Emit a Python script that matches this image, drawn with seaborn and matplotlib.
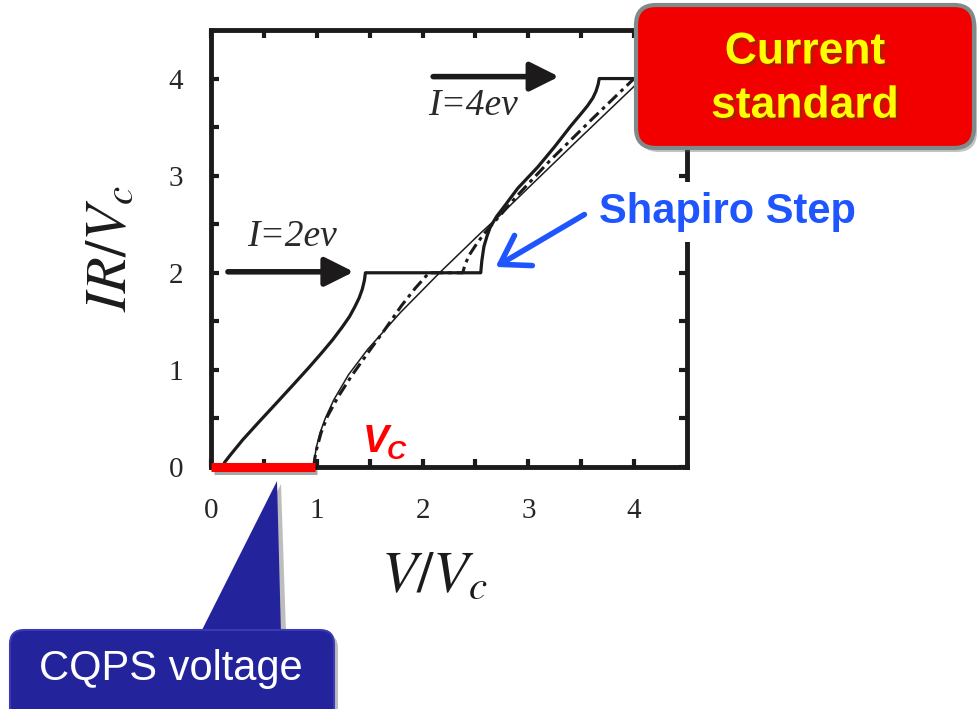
import numpy as np
import pandas as pd
import matplotlib
matplotlib.use("Agg")
import matplotlib.pyplot as plt
import seaborn as sns
from matplotlib.patches import FancyBboxPatch, Polygon
from matplotlib.transforms import IdentityTransform
import matplotlib.patheffects as pe

# ---------------- data ----------------
# main I-V curve with Shapiro steps (solid, thick)
step_v = [0.11, 0.13, 0.18, 0.30, 0.45, 0.62, 0.78, 0.93, 1.05, 1.15, 1.24, 1.31, 1.36, 1.40,
          1.43, 1.45, 1.46, 2.55, 2.56, 2.58, 2.61, 2.64, 2.70, 2.77, 2.90, 3.09, 3.25, 3.40,
          3.50, 3.56, 3.61, 3.64, 3.66, 3.67, 4.50]
step_i = [0.00, 0.05, 0.12, 0.28, 0.46, 0.66, 0.85, 1.03, 1.18, 1.31, 1.44, 1.55, 1.65, 1.74,
          1.83, 1.92, 2.00, 2.00, 2.12, 2.27, 2.38, 2.47, 2.58, 2.68, 2.87, 3.09, 3.30, 3.51,
          3.64, 3.72, 3.80, 3.87, 3.94, 4.00, 4.00]
# thin line (no microwave)
thin_v = [0.97, 0.98, 1.00, 1.03, 1.08, 1.16, 1.30, 1.48, 1.79, 2.17, 2.55, 2.74, 3.10, 3.50, 4.00, 4.10]
thin_i = [0.00, 0.10, 0.22, 0.35, 0.50, 0.69, 0.95, 1.21, 1.59, 2.01, 2.41, 2.60, 2.98, 3.40, 3.92, 4.02]
# dashed curve
dash_v = [0.97, 0.99, 1.04, 1.10, 1.20, 1.33, 1.48, 1.64, 1.80, 1.93, 2.02, 2.06, 2.38, 2.40,
          2.44, 2.50, 2.58, 2.70, 2.90, 3.20, 3.60, 4.00]
dash_i = [0.00, 0.15, 0.35, 0.52, 0.72, 0.94, 1.17, 1.41, 1.66, 1.84, 1.95, 2.00, 2.00, 2.08,
          2.18, 2.28, 2.40, 2.55, 2.80, 3.15, 3.58, 4.00]

x_ticks = [0, 1, 2, 3, 4]
y_ticks = [0, 1, 2, 3, 4]
step_levels = [2.01, 4.02]
arrow_start = [0.16, 2.10]
arrow_end = [1.35, 3.29]
step_labels = ["I=2ev", "I=4ev"]
step_label_pos = [(0.77, 2.37), (2.48, 3.72)]
cqps_range = [0.0, 0.98]

# ---------------- figure ----------------
sns.set_style("ticks")
plt.rcParams["mathtext.fontset"] = "stix"
plt.rcParams["font.family"] = ["Liberation Serif", "DejaVu Sans"]

W, H = 977, 709
fig = plt.figure(figsize=(W / 100, H / 100), dpi=100)
ax = fig.add_axes([211 / W, 1 - 467 / H, (687 - 211) / W, (467 - 30) / H])

df_step = pd.DataFrame({"V": step_v, "I": step_i})
df_thin = pd.DataFrame({"V": thin_v, "I": thin_i})
df_dash = pd.DataFrame({"V": dash_v, "I": dash_i})

ink = "#1c1a1a"
sns.lineplot(data=df_thin, x="V", y="I", sort=False, estimator=None, ax=ax,
             color=ink, lw=1.1)
sns.lineplot(data=df_dash, x="V", y="I", sort=False, estimator=None, ax=ax,
             color=ink, lw=2.2, linestyle=(0, (4, 1.6, 1.2, 1.6)))
sns.lineplot(data=df_step, x="V", y="I", sort=False, estimator=None, ax=ax,
             color=ink, lw=2.3)

ax.set_xlim(0, 4.5)
ax.set_ylim(0, 4.5)
ax.set_xticks(x_ticks)
ax.set_yticks(y_ticks)
ax.set_xticks(np.arange(0.5, 4.5, 1.0), minor=True)
ax.set_yticks(np.arange(0.5, 4.5, 1.0), minor=True)
ax.tick_params(which="both", direction="in", length=6, width=3, top=True, right=True,
               color=ink)
ax.tick_params(axis="x", which="major", labelsize=21, pad=22)
ax.tick_params(axis="y", which="major", labelsize=21, pad=20)
for s in ax.spines.values():
    s.set_linewidth(3.5)
    s.set_color(ink)

ax.set_xlabel(r"$V/V_c$", fontsize=42, color=ink)
ax.xaxis.set_label_coords(0.47, -0.195)
ax.set_ylabel(r"$IR/V_c$", fontsize=42, labelpad=22, color=ink)

# step arrows and labels
for lvl, x0, x1, lab, pos in zip(step_levels, arrow_start, arrow_end, step_labels, step_label_pos):
    ax.annotate("", xy=(x1, lvl), xytext=(x0, lvl),
                arrowprops=dict(arrowstyle="-|>,head_length=0.8,head_width=0.4",
                                lw=4, color=ink, mutation_scale=22, shrinkA=0, shrinkB=0))
    ax.text(pos[0], pos[1], lab, fontsize=27, style="italic", family="Liberation Serif",
            color="#2a2a2a", ha="center", va="center")

# red CQPS bar on the axis
ax.plot(cqps_range, [0, 0], color="#ff0000", lw=6.5, solid_capstyle="butt",
        clip_on=False, zorder=20,
        path_effects=[pe.SimpleLineShadow(offset=(2, -2), alpha=0.35), pe.Normal()])

# V_C label
ax.text(1.43, 0.26, "V", color="#ff0000", fontsize=28, fontweight="bold", style="italic",
        family="Liberation Sans", ha="left", va="center")
ax.text(1.66, 0.15, "C", color="#ff0000", fontsize=19, fontweight="bold", style="italic",
        family="Liberation Sans", ha="left", va="center")

# Shapiro Step label + arrow
ax.annotate("", xy=(2.69, 2.06), xytext=(3.53, 2.60),
            arrowprops=dict(arrowstyle="->,head_length=0.7,head_width=0.45", lw=4,
                            color="#1f55ff", mutation_scale=28, shrinkA=0, shrinkB=0))
fig.text(727 / W, 1 - 212 / H, "Shapiro Step", color="#1f55ff", fontsize=30,
         fontweight="bold", family="Liberation Sans", ha="center", va="center",
         bbox=dict(boxstyle="square,pad=0.25", fc="white", ec="none"), zorder=10)

ident = IdentityTransform()

# Current standard box (pixel coords, origin bottom-left)
shadow = FancyBboxPatch((639, H - 152), 338, 143, boxstyle="round,pad=0,rounding_size=20",
                        fc="#555555", ec="none", alpha=0.35, transform=ident, zorder=9)
fig.add_artist(shadow)
box = FancyBboxPatch((636, H - 148), 338, 143, boxstyle="round,pad=0,rounding_size=20",
                     fc="#f20000", ec="#7f8a8a", lw=3, transform=ident, zorder=10)
fig.add_artist(box)
fig.text(805 / W, 1 - 52 / H, "Current", color="#ffff00", fontsize=32, fontweight="bold",
         family="Liberation Sans", ha="center", va="center", zorder=11,
         path_effects=[pe.withSimplePatchShadow(offset=(2, -2), alpha=0.4)])
fig.text(805 / W, 1 - 106 / H, "standard", color="#ffff00", fontsize=32, fontweight="bold",
         family="Liberation Sans", ha="center", va="center", zorder=11,
         path_effects=[pe.withSimplePatchShadow(offset=(2, -2), alpha=0.4)])

# CQPS voltage callout
navy = "#23239c"
ptr_shadow = Polygon([(205, H - 632), (281, H - 484), (286, H - 632)], closed=True,
                     fc="#444444", alpha=0.35, ec="none", transform=ident, zorder=9)
fig.add_artist(ptr_shadow)
cbox_shadow = FancyBboxPatch((13, -20), 325, H - 632 + 20 - 2, boxstyle="round,pad=0,rounding_size=14",
                             fc="#444444", ec="none", alpha=0.35, transform=ident, zorder=9)
fig.add_artist(cbox_shadow)
ptr = Polygon([(200, H - 634), (277, H - 481), (281, H - 634)], closed=True,
              fc=navy, ec="none", transform=ident, zorder=10)
fig.add_artist(ptr)
cbox = FancyBboxPatch((10, -20), 324, H - 630 + 20, boxstyle="round,pad=0,rounding_size=14",
                      fc=navy, ec="#3a3ab4", lw=1.5, transform=ident, zorder=10)
fig.add_artist(cbox)
fig.text(171 / W, 1 - 669 / H, "CQPS voltage", color="white", fontsize=30,
         family="Liberation Sans", ha="center", va="center", zorder=11)

fig.savefig("out.png", dpi=100)
